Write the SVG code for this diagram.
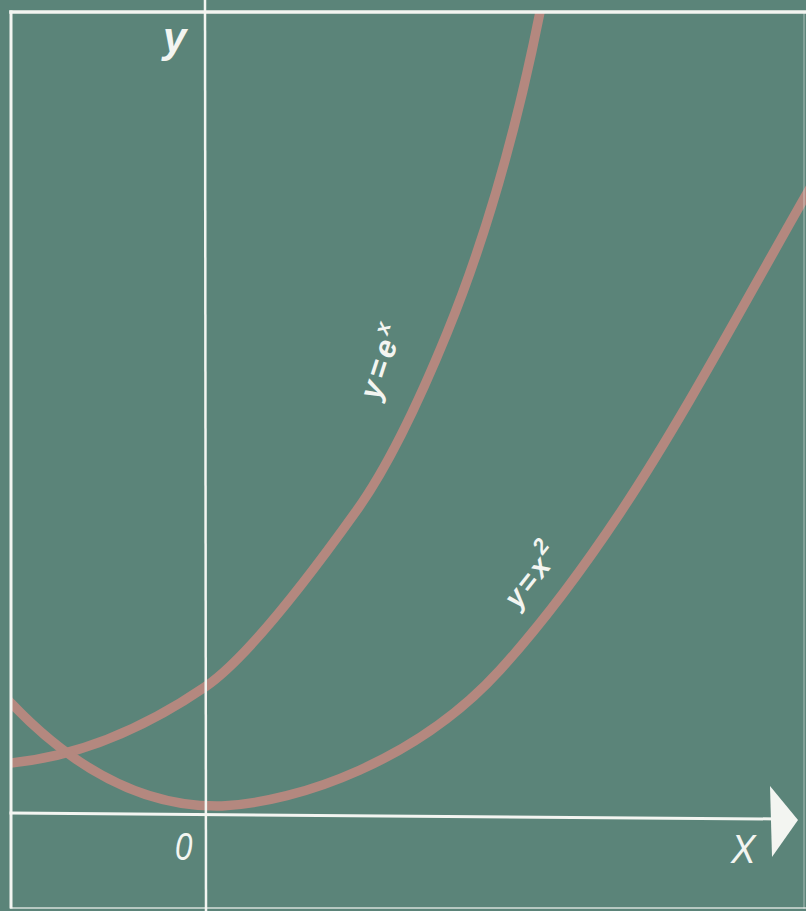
<svg xmlns="http://www.w3.org/2000/svg" width="806" height="911" viewBox="0 0 806 911">
<defs>
<style>
.frame{stroke:#f3f5f1;fill:none;stroke-linecap:square}
.curve{fill:none;stroke:#b4887f;stroke-width:9.5;stroke-linecap:round;stroke-linejoin:round}
.lbl{fill:#f3f5f1;font-family:"Liberation Sans",Arial,sans-serif;font-style:italic}
</style>
<clipPath id="plot"><rect x="11" y="12" width="795" height="896"/></clipPath>
</defs>
<rect width="806" height="911" fill="#5b8479"/>
<g id="curves" clip-path="url(#plot)">
<path id="curve-exp" class="curve" d="M11,763 C75.3,756.6 139.9,731.3 205,687 C238.1,664.5 288.8,605.5 357,510 C384.6,471.3 414.6,412.3 447,333 C484.7,240.7 515.7,133.6 540,12 L543,-3"/>
<path id="curve-sq" class="curve" d="M5,697 L11,703 C71,766 140,808 222,806 C300,802 418,760 500,670 C535.7,630.7 575.7,579.5 620,513 C682,420 744,303.5 806,195 L818,174"/>
</g>
<g id="connectors">
<line id="frame-top" class="frame" x1="11" y1="12" x2="806" y2="12" stroke-width="3.5"/>
<line id="frame-left" class="frame" x1="11" y1="12" x2="11" y2="907" stroke-width="3"/>
<line id="frame-bottom" class="frame" x1="11" y1="908" x2="806" y2="908" stroke-width="2" opacity="0.6"/>
<line id="frame-right" class="frame" x1="804" y1="12" x2="804" y2="908" stroke-width="1.5" opacity="0.35"/>
<line id="y-axis" class="frame" x1="205" y1="0" x2="206" y2="911" stroke-width="2.5"/>
<line id="x-axis" class="frame" x1="11" y1="813" x2="778" y2="819" stroke-width="3"/>
<polygon id="x-arrow" points="770,786 798,820 772,857" fill="#f3f5f1"/>
</g>
<g id="label-y"><text class="lbl" x="163" y="52" font-size="42" font-weight="bold">y</text></g>
<g id="label-0"><text class="lbl" transform="translate(175,860) scale(0.8,1)" font-size="39">0</text></g>
<g id="label-x"><text class="lbl" transform="translate(731,863) scale(0.9,1)" font-size="41">X</text></g>
<g id="label-exp"><text class="lbl" transform="translate(379,401) rotate(-72)" font-size="31" font-weight="bold" letter-spacing="4">y=e<tspan dy="-12" font-size="21">x</tspan></text></g>
<g id="label-sq"><text class="lbl" transform="translate(518,610) rotate(-52)" font-size="29" font-weight="bold" letter-spacing="3">y=x<tspan dy="-14" font-size="22">2</tspan></text></g>
</svg>
